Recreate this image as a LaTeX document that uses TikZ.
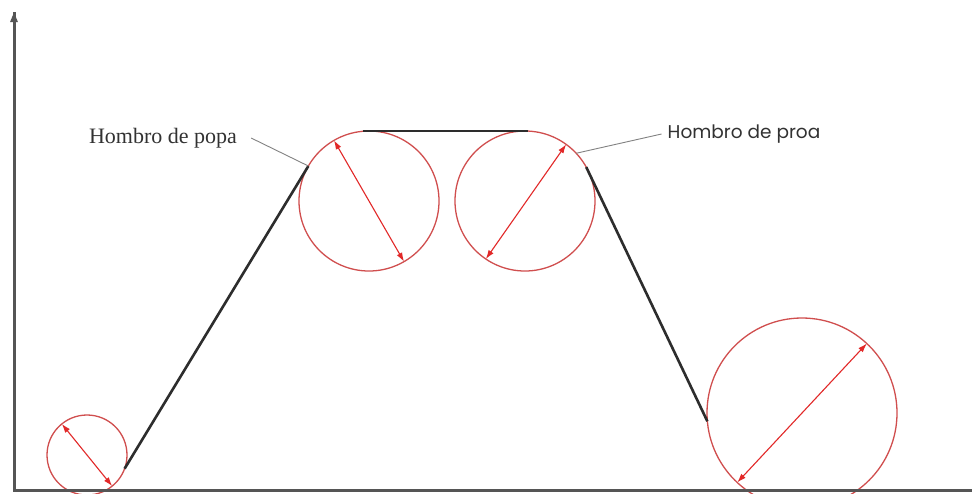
\documentclass[tikz,border=0pt]{standalone}
\usepackage{fontspec}
\setmainfont{Liberation Serif}
\newfontfamily\proafont{Poppins}
\usetikzlibrary{arrows.meta}
\definecolor{circred}{RGB}{208,78,78}
\definecolor{arrred}{RGB}{226,40,40}
\definecolor{axisgray}{RGB}{85,85,85}
\definecolor{hullgray}{RGB}{45,45,45}
\definecolor{leadgray}{RGB}{130,130,130}
\definecolor{txtgray}{RGB}{50,50,50}
\tikzset{
  circ/.style={circle, draw=circred, line width=1.3pt, inner sep=0pt, outer sep=0pt, minimum size=#1},
  diam/.style={arrred, line width=1.1pt, {Latex[length=9pt,width=6pt]}-{Latex[length=9pt,width=6pt]}},
  hull/.style={hullgray, line width=2.6pt},
  axisline/.style={axisgray, line width=3pt},
  leader/.style={leadgray, line width=0.9pt},
  lbl/.style={text=txtgray, inner sep=0pt}
}
\begin{document}
\begin{tikzpicture}[x=1pt,y=-1pt]
\useasboundingbox (0,0) rectangle (972,493);
\clip (0,0) rectangle (972,493);
\fill[white] (0,0) rectangle (972,493);
% circles
\node[circ=80pt] (c1) at (87,455) {};
\node[circ=140pt] (c2) at (369,201) {};
\node[circ=140pt] (c3) at (525,201) {};
\node[circ=190pt] (c4) at (802,413) {};
% diameters
\draw[diam] (c1.129) -- (c1.-51);
\draw[diam] (c2.120) -- (c2.-60);
\draw[diam] (c3.236) -- (c3.54);
\draw[diam] (c4.227) -- (c4.47);
% hull profile
\draw[hull] (c1.-20) -- (c2.150);
\draw[hull] ([xshift=-6pt]c2.north) -- ([xshift=3pt]c3.north);
\draw[hull] (c3.29) -- (c4.185);
% labels
\node[lbl, font=\fontsize{22}{24}\selectfont] (popa) at (163,138) {Hombro de popa};
\node[lbl, font=\proafont\fontsize{18.5}{22}\selectfont] (proa) at (744,134) {Hombro de proa};
\draw[leader] ([xshift=14pt]popa.east) -- (c2.150);
\draw[leader] ([xshift=-6pt]proa.west) -- (c3.43);
% axes
\coordinate (o) at (14,490);
\coordinate (ytop) at (14,12);
\coordinate (xend) at (972,490);
\draw[axisline] (xend) -- (o) -- (ytop);
\draw[axisgray, line width=3pt, -{Triangle[length=10pt,width=7pt]}] (14,40) -- (ytop);
\end{tikzpicture}
\end{document}
